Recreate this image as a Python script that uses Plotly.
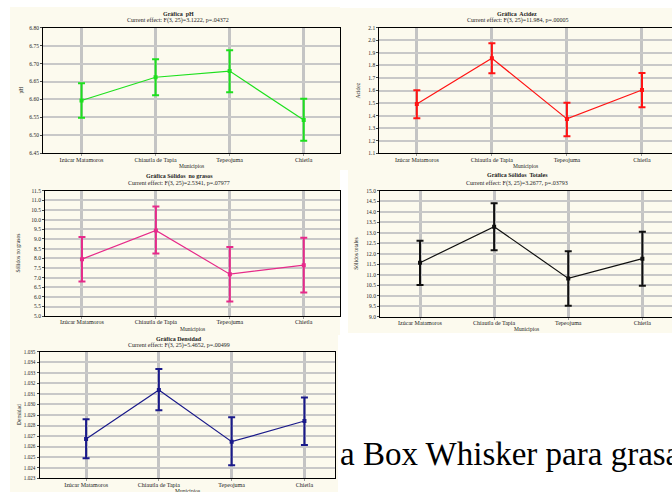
import plotly.graph_objects as go

W, H = 672, 492

municipios = ["Izúcar Matamoros", "Chiautla de Tapia", "Tepeojuma", "Chietla"]

ph_mean = [6.597, 6.662, 6.679, 6.543]
ph_low = [6.549, 6.612, 6.620, 6.485]
ph_high = [6.645, 6.712, 6.737, 6.602]

acidez_mean = [1.493, 1.857, 1.374, 1.604]
acidez_low = [1.379, 1.737, 1.236, 1.467]
acidez_high = [1.602, 1.976, 1.503, 1.740]

sng_mean = [7.956, 9.443, 7.178, 7.645]
sng_low = [6.798, 8.250, 5.761, 6.228]
sng_high = [9.097, 10.688, 8.579, 9.063]

st_mean = [11.571, 13.286, 10.825, 11.762]
st_low = [10.508, 12.159, 9.524, 10.476]
st_high = [12.619, 14.397, 12.111, 13.048]

dens_mean = [1.02673, 1.03137, 1.02647, 1.02843]
dens_low = [1.02490, 1.02944, 1.02423, 1.02616]
dens_high = [1.02859, 1.03336, 1.02878, 1.03067]

titles = ["Gráfica  pH", "Gráfica  Acidez", "Gráfica Sólidos  no grasos",
          "Gráfica Sólidos  Totales", "Gráfica Densidad"]
subtitles = ["Current effect: F(3, 25)=3.1222, p=.04372",
             "Current effect: F(3, 25)=11.984, p=.00005",
             "Current effect: F(3, 25)=2.5341, p=.07977",
             "Current effect: F(3, 25)=3.2677, p=.03793",
             "Current effect: F(3, 25)=5.4652, p=.00499"]
ytitles = ["pH", "Acidez", "Sólidos no grasos", "Sólidos totales", "Densidad"]
xtitle = "Municipios"

series = [
    (ph_mean, ph_low, ph_high),
    (acidez_mean, acidez_low, acidez_high),
    (sng_mean, sng_low, sng_high),
    (st_mean, st_low, st_high),
    (dens_mean, dens_low, dens_high),
]
colors = ["#1EE01E", "#FF1414", "#E62A8A", "#101010", "#1A1A8A"]

# layout geometry in pixels: (left, right, top, bottom)
boxes = [(43, 340, 27.7, 153.3), (379.3, 672, 27.7, 153.3),
         (45, 340, 190.7, 316.2), (380, 672, 190.7, 316.7),
         (39.5, 335, 351.7, 478.3)]
xranges = [[-0.52, 3.49], [-0.5, 3.4], [-0.5, 3.49], [-0.54, 3.40], [-0.64, 3.42]]
yranges = [[6.45, 6.80], [1.1, 2.1], [5.0, 11.5], [9.0, 15.0], [1.023, 1.035]]
dticks = [0.05, 0.1, 0.5, 0.5, 0.001]
tfmts = [".2f", ".1f", ".1f", ".1f", ".3f"]
ytick_sizes = [5.5, 5.5, 5.5, 5.5, 5.2]
creams = [(10, 340, 7, 170), (340, 672, 8, 170), (10, 340, 170, 335),
          (348, 672, 170, 333), (10, 338, 335, 492)]
title_pos = [(178, 13.7, 20.3), (517, 13.7, 20.3), (179, 176, 183.3),
             (517, 175, 183.3), (179, 339, 345.5)]
ytitle_x = [20, 357, 18, 356, 19]
xlabel_y = [166, 166, 329, 329, 491]

FONT = "Liberation Serif"

def px(x):
    return x / W

def py(y):
    return 1 - y / H

fig = go.Figure()
layout = dict(width=W, height=H, margin=dict(l=0, r=0, t=0, b=0, pad=0),
              paper_bgcolor="white", plot_bgcolor="white", showlegend=False,
              font=dict(family=FONT, size=6, color="black"))
shapes = []
annotations = []

for i, ((m, lo, hi), col) in enumerate(zip(series, colors)):
    n = i + 1
    xa = "x" if n == 1 else f"x{n}"
    ya = "y" if n == 1 else f"y{n}"
    up = [h - v for h, v in zip(hi, m)]
    dn = [v - l for v, l in zip(m, lo)]
    fig.add_trace(go.Scatter(
        x=list(range(len(municipios))), y=m, xaxis=xa, yaxis=ya,
        mode="lines+markers",
        line=dict(color=col, width=1.2),
        marker=dict(symbol="square", size=4, color=col),
        error_y=dict(type="data", symmetric=False, array=up, arrayminus=dn,
                     color=col, thickness=2, width=3.5),
        hoverinfo="skip"))
    l, r, t, b = boxes[i]
    xkey = "xaxis" if n == 1 else f"xaxis{n}"
    ykey = "yaxis" if n == 1 else f"yaxis{n}"
    layout[xkey] = dict(domain=[px(l), px(r)], anchor=ya, range=xranges[i],
                        automargin=False,
                        tickmode="array", tickvals=list(range(len(municipios))),
                        ticktext=municipios, showgrid=True, gridcolor="#C4C4C4",
                        gridwidth=3, zeroline=False, showline=True,
                        linecolor="black", linewidth=1, mirror=True,
                        ticks="outside", ticklen=2, tickcolor="#9A9A9A",
                        ticklabelstandoff=-2,
                        tickfont=dict(family=FONT, size=6, color="#222"))
    layout[ykey] = dict(domain=[py(b), py(t)], anchor=xa, range=yranges[i],
                        automargin=False,
                        dtick=dticks[i], tick0=yranges[i][0],
                        tickformat=tfmts[i], showgrid=True, gridcolor="#C8C8C8",
                        gridwidth=1.6, zeroline=False, showline=True,
                        linecolor="black", linewidth=1, mirror=True,
                        ticks="outside", ticklen=2, tickcolor="#444",
                        tickfont=dict(family=FONT, size=ytick_sizes[i], color="#222"))
    cl, cr, ct, cb = creams[i]
    shapes.append(dict(type="rect", xref="paper", yref="paper", layer="below",
                       x0=px(cl), x1=px(cr), y0=py(cb), y1=py(ct),
                       fillcolor="#FCFAEE", line=dict(width=0)))
    tx, ty1, ty2 = title_pos[i]
    annotations.append(dict(text=f"<b>{titles[i]}</b>", x=px(tx), y=py(ty1),
                            xref="paper", yref="paper", showarrow=False,
                            xanchor="center", yanchor="middle",
                            font=dict(family=FONT, size=6, color="#222")))
    annotations.append(dict(text=subtitles[i], x=px(tx), y=py(ty2),
                            xref="paper", yref="paper", showarrow=False,
                            xanchor="center", yanchor="middle",
                            font=dict(family=FONT, size=6, color="#222")))
    annotations.append(dict(text=ytitles[i], x=px(ytitle_x[i]), y=py((t + b) / 2),
                            xref="paper", yref="paper", showarrow=False,
                            textangle=-90, xanchor="center", yanchor="middle",
                            font=dict(family=FONT, size=5.5, color="#222")))
    annotations.append(dict(text=xtitle, x=px((l + r) / 2), y=py(xlabel_y[i]),
                            xref="paper", yref="paper", showarrow=False,
                            xanchor="center", yanchor="middle",
                            font=dict(family=FONT, size=5.5, color="#222")))

annotations.append(dict(text="a Box Whisker para grasa", x=px(338), y=py(454),
                        xref="paper", yref="paper", showarrow=False,
                        xanchor="left", yanchor="middle",
                        font=dict(family=FONT, size=33, color="black")))

layout["shapes"] = shapes
layout["annotations"] = annotations
fig.update_layout(**layout)
fig.write_html("out.html", config={"displayModeBar": False},
               post_script="document.body.style.margin='0';")
